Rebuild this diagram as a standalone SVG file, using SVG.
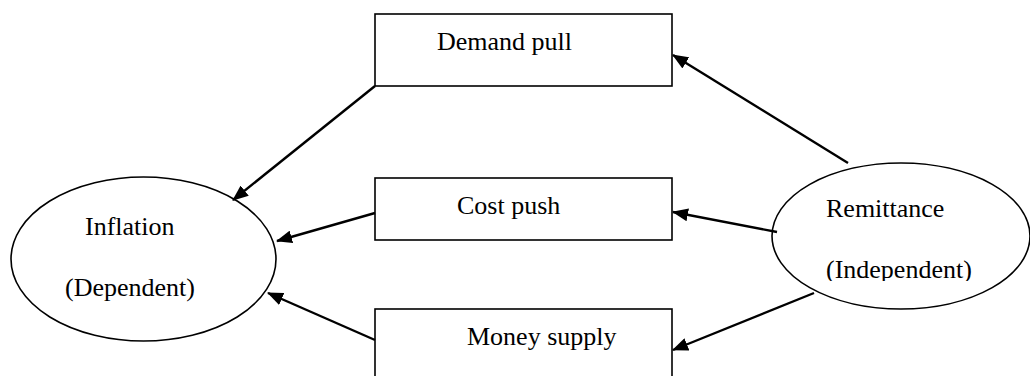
<svg xmlns="http://www.w3.org/2000/svg" width="1030" height="376" viewBox="0 0 1030 376">
<defs>
<marker id="ah" markerWidth="16" markerHeight="13" refX="15" refY="6.5" orient="auto" markerUnits="userSpaceOnUse" viewBox="0 0 16 13">
<path d="M0,0 L16,6.5 L0,13 Z" fill="#000"/>
</marker>
<clipPath id="remclip"><rect x="700" y="150" width="330" height="131"/></clipPath>
<style>
.box{fill:#fff;stroke:#000;stroke-width:1.6}
.ell{fill:#fff;stroke:#000;stroke-width:1.6}
.t{font-family:"Liberation Serif","Times New Roman",serif;font-size:26px;fill:#000}
.c{fill:none;stroke:#000;stroke-width:2.4;marker-end:url(#ah)}
</style>
</defs>
<rect width="1030" height="376" fill="#fff"/>
<g id="demand-pull">
<rect class="box" x="375" y="14" width="297" height="72"/>
<text class="t" x="437" y="50">Demand pull</text>
</g>
<g id="cost-push">
<rect class="box" x="375" y="178" width="297" height="62"/>
<text class="t" x="457" y="214">Cost push</text>
</g>
<g id="money-supply">
<rect class="box" x="375" y="309" width="297" height="80"/>
<text class="t" x="467" y="345">Money supply</text>
</g>
<g id="inflation">
<ellipse class="ell" cx="143.5" cy="259" rx="132.5" ry="82"/>
<text class="t" x="85" y="235">Inflation</text>
<text class="t" x="65" y="296">(Dependent)</text>
</g>
<g id="remittance">
<ellipse class="ell" cx="901" cy="236" rx="129" ry="73"/>
<text class="t" x="826" y="217">Remittance</text>
<text class="t" x="826" y="278" clip-path="url(#remclip)">(Independent)</text>
</g>
<g id="connectors">
<line class="c" x1="375" y1="86" x2="233" y2="200"/>
<line class="c" x1="375" y1="213" x2="277" y2="241"/>
<line class="c" x1="375" y1="340" x2="268" y2="293"/>
<line class="c" x1="848" y1="163" x2="673" y2="55"/>
<line class="c" x1="777" y1="232" x2="673" y2="212"/>
<line class="c" x1="814" y1="293" x2="673" y2="350"/>
</g>
</svg>
